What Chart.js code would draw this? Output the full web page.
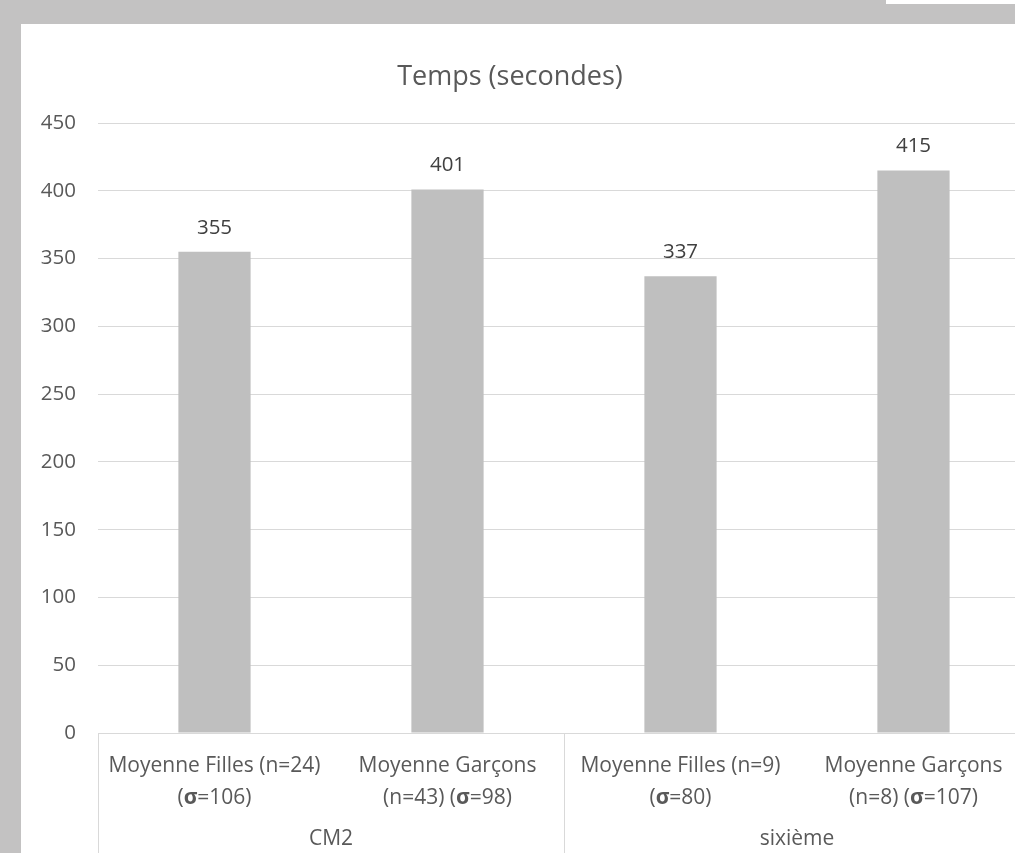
<!DOCTYPE html>
<html>
<head>
<meta charset="utf-8">
<script src="https://cdn.jsdelivr.net/npm/chart.js@4"></script>
<style>
  html, body { margin: 0; padding: 0; width: 1015px; height: 853px; overflow: hidden; background: #c3c2c2; }
  #corner { position: absolute; left: 886px; top: 0; width: 129px; height: 4px; background: #ffffff; }
  #panel { position: absolute; left: 21px; top: 24px; width: 994px; height: 829px; background: #ffffff; overflow: hidden; }
  #c { position: absolute; left: 0; top: 0; }
</style>
</head>
<body>
<div id="corner"></div>
<div id="panel"><canvas id="c" width="1011" height="829" style="width:1011px;height:829px"></canvas></div>
<script>
const chartTitle = 'Temps (secondes)';
const categoryLines = [
  ['Moyenne Filles (n=24)', '(σ=106)'],
  ['Moyenne Garçons', '(n=43) (σ=98)'],
  ['Moyenne Filles (n=9)', '(σ=80)'],
  ['Moyenne Garçons', '(n=8) (σ=107)']
];
const groupNames = ['CM2', 'sixième'];
const groupFirst = [0, 2];
const groupLast = [1, 3];
const values = [355, 401, 337, 415];
const yTicks = [0, 50, 100, 150, 200, 250, 300, 350, 400, 450];

const FONT = "'Open Sans', sans-serif";
const TXT = '#595959';

const drawPlugin = {
  id: 'custom',
  afterDatasetsDraw(chart) {
    const ctx = chart.ctx;
    const meta = chart.getDatasetMeta(0);
    ctx.save();
    ctx.font = '20.5px ' + FONT;
    ctx.fillStyle = '#404040';
    ctx.textAlign = 'center';
    ctx.textBaseline = 'middle';
    meta.data.forEach((bar, i) => {
      ctx.fillText(String(values[i]), bar.x, bar.y - 24);
    });
    ctx.restore();
  },
  afterDraw(chart) {
    const ctx = chart.ctx;
    const xs = chart.scales.x;
    const ca = chart.chartArea;
    ctx.save();
    // title
    ctx.font = '27px ' + FONT;
    ctx.fillStyle = TXT;
    ctx.textAlign = 'center';
    ctx.textBaseline = 'middle';
    ctx.fillText(chartTitle, 489, 53);
    // separators
    ctx.strokeStyle = '#d9d9d9';
    ctx.lineWidth = 1;
    const seps = [ca.left];
    for (let g = 0; g < groupNames.length - 1; g++) {
      seps.push((xs.getPixelForValue(groupLast[g]) + xs.getPixelForValue(groupFirst[g + 1])) / 2);
    }
    seps.push(ca.right);
    seps.forEach(x => {
      const px = Math.round(x) + 0.5;
      ctx.beginPath();
      ctx.moveTo(px, ca.bottom);
      ctx.lineTo(px, chart.height);
      ctx.stroke();
    });
    // category labels
    const fs = 21;
    categoryLines.forEach((lines, i) => {
      const cx = xs.getPixelForValue(i);
      lines.forEach((line, li) => {
        const y = ca.bottom + 33 + li * 32;
        drawMixed(ctx, line, cx, y, fs);
      });
    });
    // group labels
    ctx.font = fs + 'px ' + FONT;
    ctx.fillStyle = TXT;
    ctx.textAlign = 'center';
    ctx.textBaseline = 'middle';
    groupNames.forEach((name, g) => {
      const cx = (xs.getPixelForValue(groupFirst[g]) + xs.getPixelForValue(groupLast[g])) / 2;
      ctx.fillText(name, cx, ca.bottom + 106);
    });
    ctx.restore();
  }
};

function drawMixed(ctx, text, cx, y, fs) {
  const parts = text.split('σ');
  const segs = [];
  parts.forEach((p, k) => {
    if (p) segs.push({ t: p, bold: false });
    if (k < parts.length - 1) segs.push({ t: 'σ', bold: true });
  });
  let total = 0;
  segs.forEach(s => {
    ctx.font = (s.bold ? 'bold ' : '') + fs + 'px ' + FONT;
    s.w = ctx.measureText(s.t).width;
    total += s.w;
  });
  let x = cx - total / 2;
  ctx.fillStyle = TXT;
  ctx.textAlign = 'left';
  ctx.textBaseline = 'middle';
  segs.forEach(s => {
    ctx.font = (s.bold ? 'bold ' : '') + fs + 'px ' + FONT;
    ctx.fillText(s.t, x, y);
    x += s.w;
  });
}

new Chart(document.getElementById('c'), {
  type: 'bar',
  data: {
    labels: categoryLines.map(l => l.join(' ')),
    datasets: [{
      data: values,
      backgroundColor: '#bfbfbf',
      borderWidth: 0,
      barPercentage: 0.31,
      categoryPercentage: 1.0
    }]
  },
  options: {
    responsive: false,
    animation: false,
    devicePixelRatio: 1,
    layout: { padding: { top: 99, right: 2, left: 0, bottom: 0 } },
    plugins: { legend: { display: false }, title: { display: false }, tooltip: { enabled: false } },
    scales: {
      x: {
        grid: { display: false },
        border: { display: false },
        ticks: { display: false },
        afterFit: s => { s.height = 120; }
      },
      y: {
        min: 0, max: 450,
        afterBuildTicks: s => { s.ticks = yTicks.map(v => ({ value: v })); },
        grid: { color: '#d9d9d9', lineWidth: 1, drawTicks: false },
        border: { display: false },
        ticks: { color: TXT, font: { family: FONT, size: 20.5 }, padding: 22 },
        afterFit: s => { s.width = 77; }
      }
    }
  },
  plugins: [drawPlugin]
});
</script>
</body>
</html>
